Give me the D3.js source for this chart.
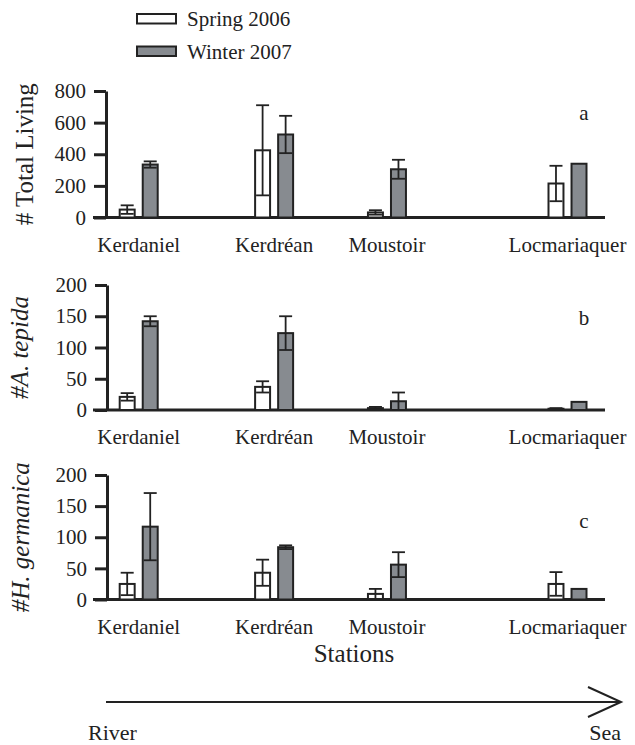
<!DOCTYPE html>
<html>
<head>
<meta charset="utf-8">
<script src="https://cdn.jsdelivr.net/npm/d3@7"></script>
<style>
  html, body { margin: 0; padding: 0; background: #fff; }
</style>
</head>
<body>
<svg id="chart" width="635" height="745"></svg>
<script>
// ---------- data ----------
const stations = ["Kerdaniel", "Kerdréan", "Moustoir", "Locmariaquer"];
const seasons = ["Spring 2006", "Winter 2007"];

const totalSpring     = [50, 425, 32, 215];
const totalSpringErr  = [27, 285, 14, 112];
const totalWinter     = [335, 525, 305, 340];
const totalWinterErr  = [20, 118, 60, 0];

const tepidaSpring    = [21, 37, 3, 2];
const tepidaSpringErr = [6, 9, 2, 1];
const tepidaWinter    = [142, 123, 14, 13];
const tepidaWinterErr = [8, 27, 14, 0];

const germSpring      = [25, 43, 9, 25];
const germSpringErr   = [18, 21, 8, 19];
const germWinter      = [117, 84, 56, 17];
const germWinterErr   = [54, 3, 20, 0];

const ticksTotal   = [0, 200, 400, 600, 800];
const ticksSpecies = [0, 50, 100, 150, 200];

// relative position of each station along the estuary (layout)
const stationSlot = [0, 6, 11, 19];

// ---------- layout ----------
const FAM = "Liberation Serif";
const svg = d3.select("#chart");
const FONT = 21;
const colors = { "Spring 2006": "#ffffff", "Winter 2007": "#878b90" };
const strokeCol = "#222";

function txt(sel) {
  return sel.style("font-family", FAM).attr("fill", "#222");
}

const x = d3.scaleLinear().domain([0, 19]).range([138.7, 567.5]);
const xOff = d3.scaleBand().domain(seasons).range([-19, 19]).paddingInner(0.35);

const panels = [
  { letter: "a", title: "# Total Living", italic: false, max: 800, ticks: ticksTotal,
    top: 91, bottom: 217.5, axisX: 106, letterY: 120, titleX: 33,
    spring: totalSpring, springErr: totalSpringErr, winter: totalWinter, winterErr: totalWinterErr },
  { letter: "b", title: "#A. tepida", italic: true, max: 200, ticks: ticksSpecies,
    top: 285, bottom: 410, axisX: 107, letterY: 325, titleX: 28,
    spring: tepidaSpring, springErr: tepidaSpringErr, winter: tepidaWinter, winterErr: tepidaWinterErr },
  { letter: "c", title: "#H. germanica", italic: true, max: 200, ticks: ticksSpecies,
    top: 475, bottom: 599.5, axisX: 107, letterY: 528, titleX: 29,
    spring: germSpring, springErr: germSpringErr, winter: germWinter, winterErr: germWinterErr }
];

panels.forEach(p => {
  const g = svg.append("g");
  const y = d3.scaleLinear().domain([0, p.max]).range([p.bottom, p.top]);

  // y axis
  const yAxis = d3.axisLeft(y).tickValues(p.ticks).tickSize(12).tickSizeOuter(0).tickPadding(8);
  const ag = g.append("g").attr("transform", `translate(${p.axisX},0)`).call(yAxis);
  ag.select(".domain").attr("stroke", strokeCol).attr("stroke-width", 3);
  ag.selectAll(".tick line").attr("stroke", strokeCol).attr("stroke-width", 3);
  txt(ag.selectAll(".tick text")).attr("font-size", FONT);

  // x baseline
  g.append("line")
    .attr("x1", 93).attr("x2", 605)
    .attr("y1", y(0)).attr("y2", y(0))
    .attr("stroke", strokeCol).attr("stroke-width", 3);

  // bars
  const rows = [];
  stations.forEach((s, i) => {
    rows.push({ st: i, season: seasons[0], v: p.spring[i], e: p.springErr[i] });
    rows.push({ st: i, season: seasons[1], v: p.winter[i], e: p.winterErr[i] });
  });

  g.selectAll("rect.bar").data(rows).enter().append("rect")
    .attr("class", "bar")
    .attr("x", d => x(stationSlot[d.st]) + xOff(d.season))
    .attr("width", xOff.bandwidth())
    .attr("y", d => y(d.v))
    .attr("height", d => y(0) - y(d.v))
    .attr("fill", d => colors[d.season])
    .attr("stroke", strokeCol).attr("stroke-width", 2);

  // error bars
  const capW = 13;
  const eb = g.selectAll("g.err").data(rows.filter(d => d.e > 0)).enter().append("g").attr("class", "err");
  const cx = d => x(stationSlot[d.st]) + xOff(d.season) + xOff.bandwidth() / 2;
  eb.append("line")
    .attr("x1", cx).attr("x2", cx)
    .attr("y1", d => y(d.v + d.e)).attr("y2", d => y(Math.max(0, d.v - d.e)))
    .attr("stroke", strokeCol).attr("stroke-width", 1.8);
  eb.append("line")
    .attr("x1", d => cx(d) - capW / 2).attr("x2", d => cx(d) + capW / 2)
    .attr("y1", d => y(d.v + d.e)).attr("y2", d => y(d.v + d.e))
    .attr("stroke", strokeCol).attr("stroke-width", 1.8);
  eb.append("line")
    .attr("x1", d => cx(d) - capW / 2).attr("x2", d => cx(d) + capW / 2)
    .attr("y1", d => y(Math.max(0, d.v - d.e))).attr("y2", d => y(Math.max(0, d.v - d.e)))
    .attr("stroke", strokeCol).attr("stroke-width", 1.8);

  // station labels
  txt(g.selectAll("text.st").data(stations).enter().append("text"))
    .attr("class", "st")
    .attr("x", (d, i) => x(stationSlot[i]))
    .attr("y", y(0) + 34)
    .attr("text-anchor", "middle")
    .attr("font-size", FONT)
    .text(d => d);

  // panel letter
  txt(g.append("text"))
    .attr("x", 584).attr("y", p.letterY)
    .attr("text-anchor", "middle")
    .attr("font-size", FONT)
    .text(p.letter);

  // y title
  const midY = (p.top + p.bottom) / 2;
  txt(g.append("text"))
    .attr("transform", `translate(${p.titleX},${midY}) rotate(-90)`)
    .attr("text-anchor", "middle")
    .attr("font-size", 25)
    .style("font-style", p.italic ? "italic" : "normal")
    .text(p.title);
});

// ---------- legend ----------
const leg = svg.append("g");
seasons.forEach((s, i) => {
  const yy = 14 + i * 32.5;
  leg.append("rect")
    .attr("x", 137).attr("y", yy).attr("width", 39).attr("height", 9.5)
    .attr("fill", colors[s]).attr("stroke", strokeCol).attr("stroke-width", 2);
  txt(leg.append("text"))
    .attr("x", 187).attr("y", yy + 12)
    .attr("font-size", FONT)
    .text(s);
});

// ---------- Stations title & arrow ----------
txt(svg.append("text"))
  .attr("x", 354).attr("y", 662)
  .attr("text-anchor", "middle")
  .attr("font-size", 25)
  .text("Stations");

const ay = 702;
svg.append("line").attr("x1", 106).attr("x2", 621).attr("y1", ay).attr("y2", ay)
  .attr("stroke", strokeCol).attr("stroke-width", 2);
svg.append("path")
  .attr("d", `M588,${ay - 15} L621,${ay} L588,${ay + 15}`)
  .attr("fill", "none").attr("stroke", strokeCol).attr("stroke-width", 2);

txt(svg.append("text")).attr("x", 88).attr("y", 740).attr("font-size", 22).text("River");
txt(svg.append("text")).attr("x", 621).attr("y", 740).attr("text-anchor", "end").attr("font-size", 22).text("Sea");
</script>
</body>
</html>
